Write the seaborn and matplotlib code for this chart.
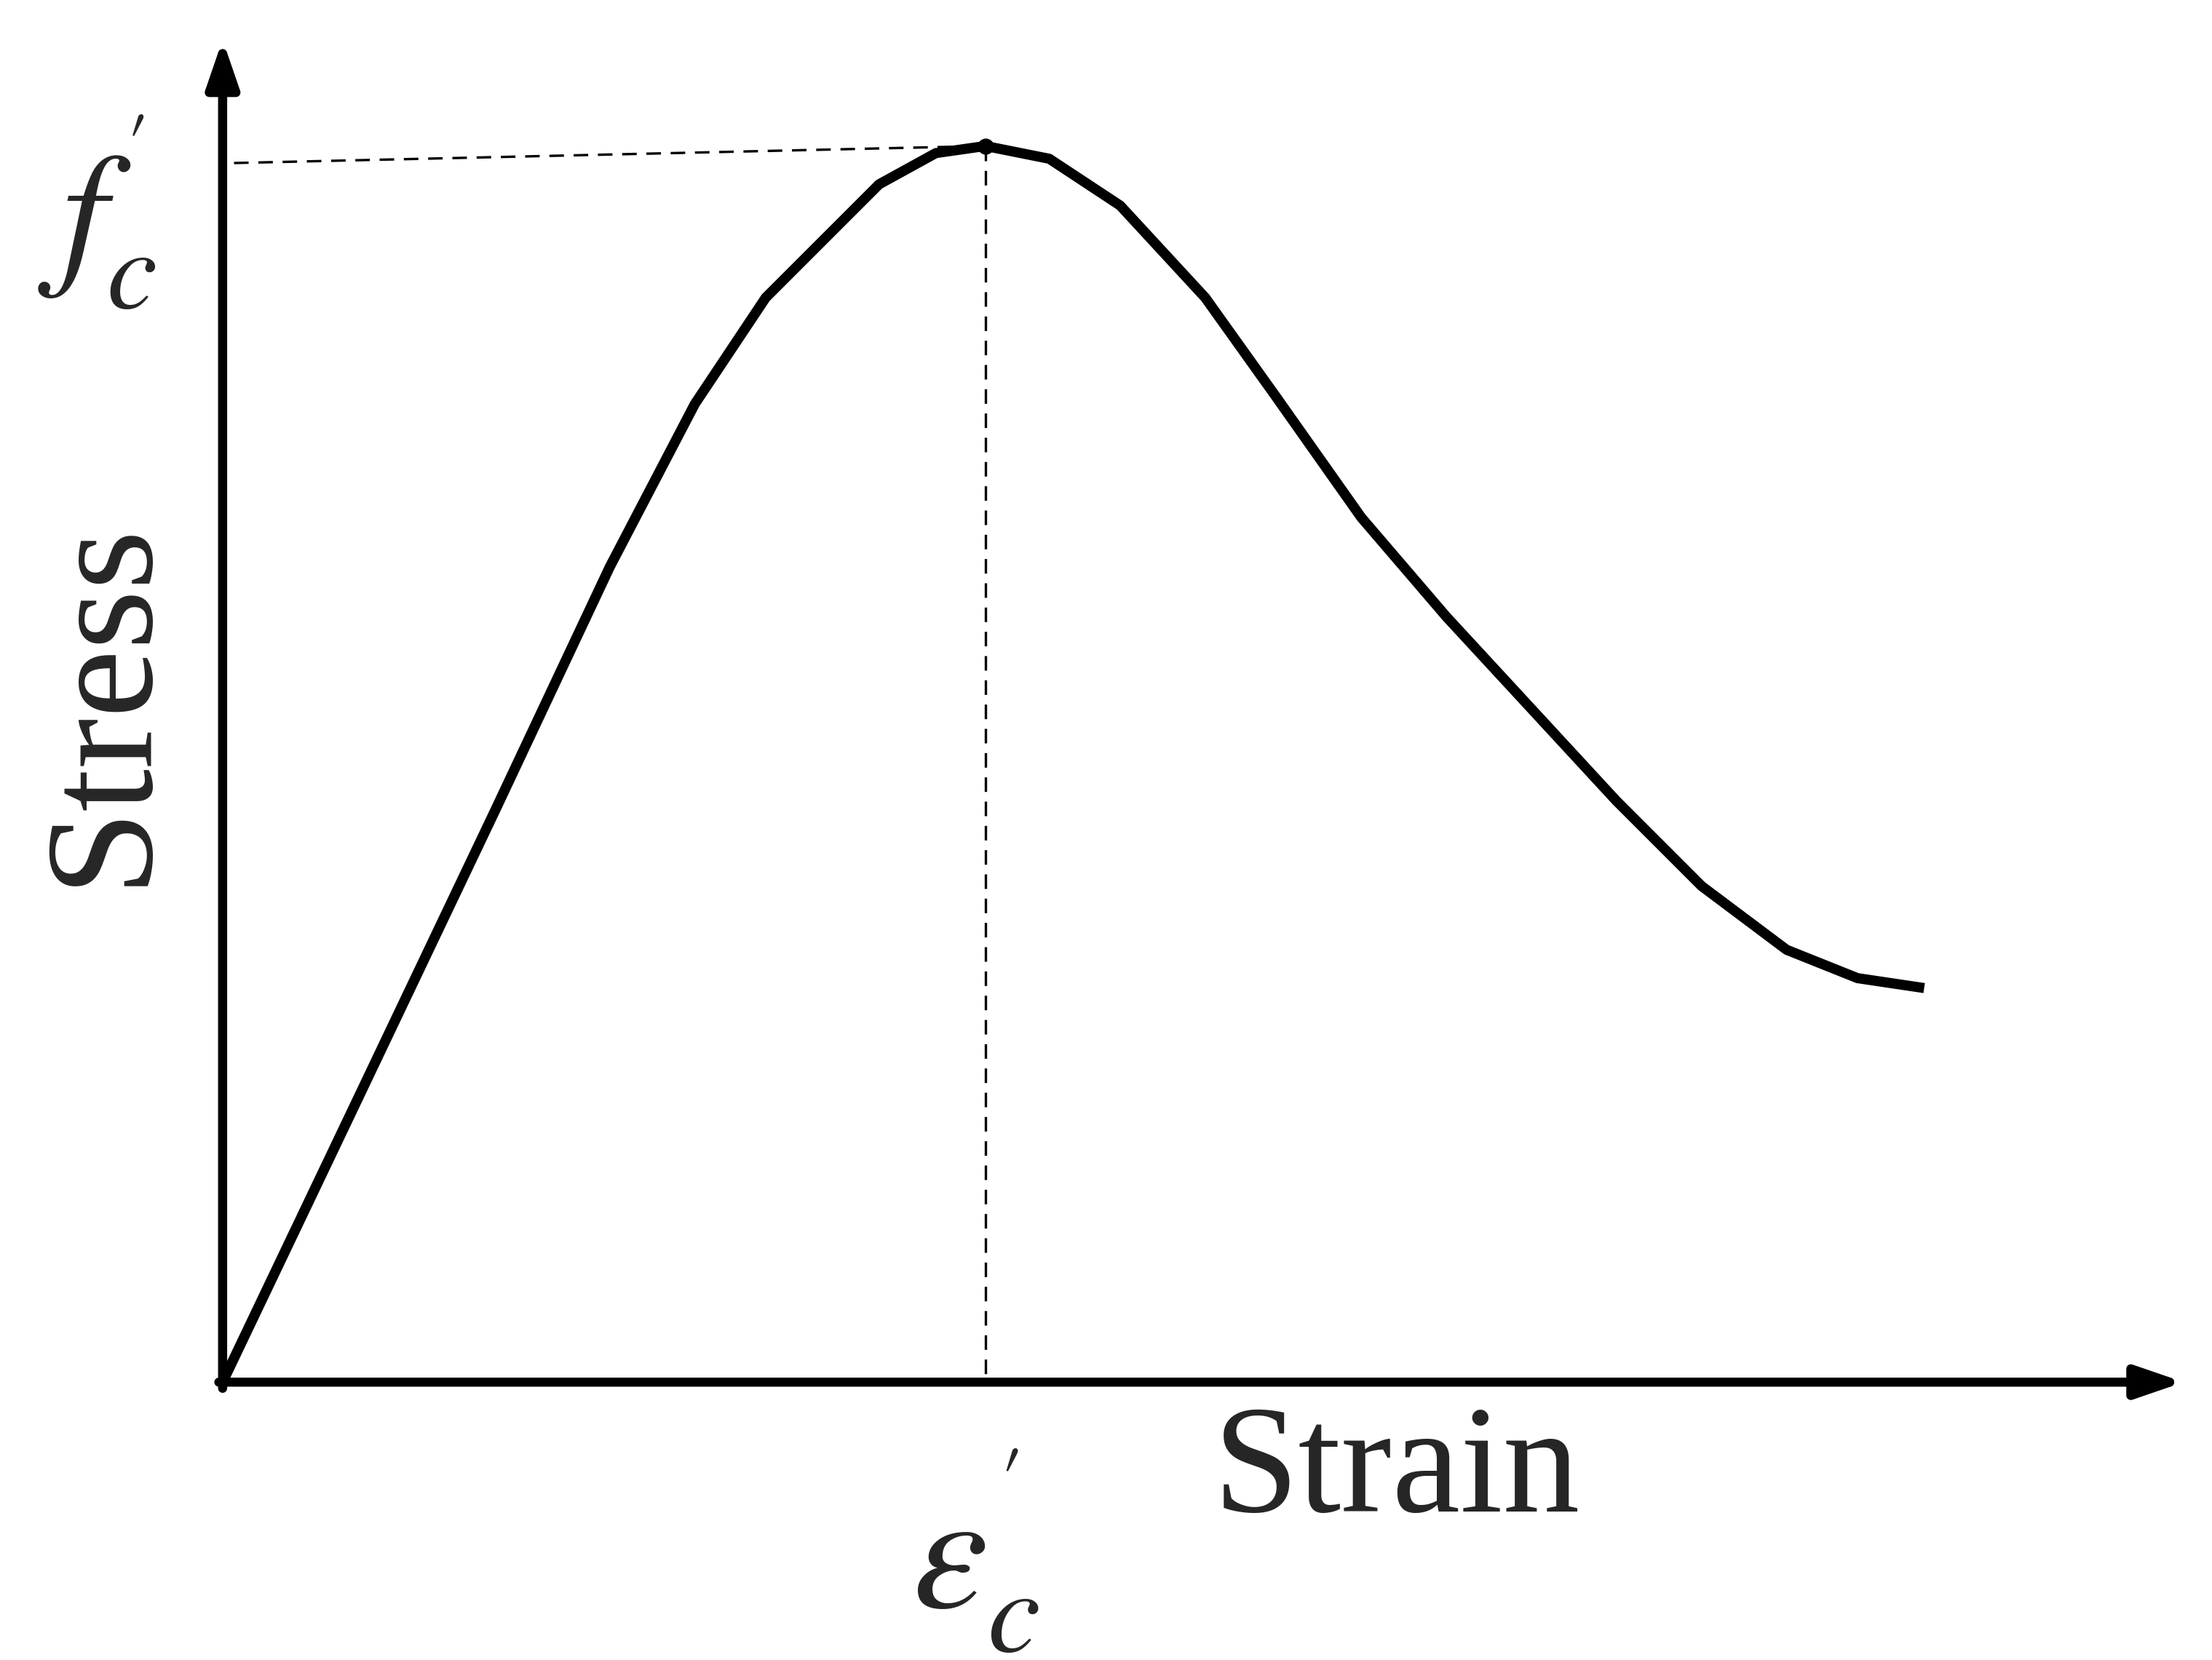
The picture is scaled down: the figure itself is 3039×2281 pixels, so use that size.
import numpy as np
import pandas as pd
import seaborn as sns
import matplotlib
matplotlib.use("Agg")
import matplotlib.pyplot as plt

# curve (normalized: peak strain = 1, peak stress = 1)
px = [157, 250, 350, 430, 490, 540, 580, 620, 660, 695, 740, 790, 850, 900, 960,
      1020, 1080, 1140, 1200, 1260, 1310, 1357]
py = [975, 780, 570, 400, 285, 210, 170, 130, 108, 103, 112, 145, 210, 280, 365,
      435, 500, 565, 625, 670, 690, 697]
strain = [(p - 157) / 538 for p in px]
stress = [(975 - q) / 872 for q in py]
peak_strain, peak_stress = 1.0, 1.0
dash_left_stress = (975 - 115) / 872

sns.set_theme(style="white")
plt.rcParams['mathtext.fontset'] = 'stix'
plt.rcParams['font.family'] = ['Liberation Serif', 'DejaVu Serif']

fig = plt.figure(figsize=(15.195, 11.405), dpi=200)
ax = fig.add_axes([0, 0, 1, 1])
ax.set_xlim(-157 / 538, (1560 - 157) / 538)
ax.set_ylim((975 - 1171) / 872, 975 / 872)
ax.axis('off')

df = pd.DataFrame({"strain": strain, "stress": stress})
sns.lineplot(data=df, x="strain", y="stress", ax=ax, color="black", lw=5,
             sort=False, legend=False, solid_capstyle='butt')

ax.plot([0.015, peak_strain], [dash_left_stress, peak_stress], ls=(0, (6, 4)),
        color="black", lw=1.2)
ax.plot([peak_strain, peak_strain], [peak_stress, 0], ls=(0, (6, 4)),
        color="black", lw=1.2)
ax.plot([peak_strain], [peak_stress], 'o', color='black', ms=7)

arrow = dict(arrowstyle="-|>,head_length=1.6,head_width=0.55", color="black",
             lw=4.5, shrinkA=0, shrinkB=0)
ax.annotate("", xy=((1540 - 157) / 538, 0), xytext=(-0.005, 0), arrowprops=arrow)
ax.annotate("", xy=(0, (975 - 28) / 872), xytext=(0, -0.005), arrowprops=arrow)

ax.text(-0.155, 0.55, "Stress", rotation=90, fontsize=76, ha='center', va='center')
ax.text((985 - 157) / 538, (975 - 1040) / 872, "Strain", fontsize=76,
        ha='center', va='center')
ax.text(-0.165, (975 - 150) / 872, r"$f_c^{'}$", fontsize=80, ha='center', va='center')
ax.text((688 - 157) / 538, (975 - 1095) / 872, r"$\varepsilon_c^{'}$", fontsize=84,
        ha='center', va='center')

fig.savefig("out.png", dpi=200)
